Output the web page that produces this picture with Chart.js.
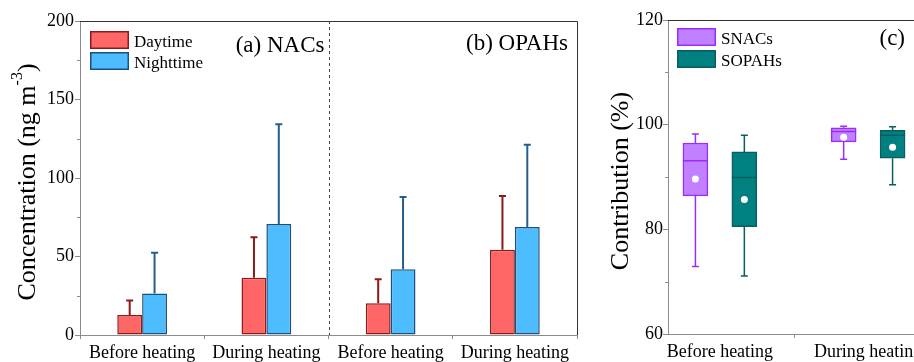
<!DOCTYPE html>
<html>
<head>
<meta charset="utf-8">
<script src="https://cdn.jsdelivr.net/npm/chart.js@4.4.0/dist/chart.umd.min.js"></script>
<style>
  html, body { margin: 0; padding: 0; background: #fff; overflow: hidden; }
  #wrap { position: relative; width: 914px; height: 362px; overflow: hidden; }
  #concChart { position: absolute; left: 0; top: 0; }
  #contribChart { position: absolute; left: 600px; top: 0; }
</style>
</head>
<body>
<div id="wrap">
  <canvas id="concChart" width="600" height="362"></canvas>
  <canvas id="contribChart" width="330" height="362"></canvas>
</div>
<script>
// (a) NACs and (b) OPAHs: mean concentration with one-sided SD
const periods = ['Before heating', 'During heating', 'Before heating', 'During heating'];
const daytimeMean = [12.7, 36.5, 20.2, 54.3];
const daytimeSD = [9.3, 25.7, 15.3, 34.2];
const nighttimeMean = [26.5, 70.7, 41.8, 68.8];
const nighttimeSD = [25.9, 63.5, 46.1, 52.4];
const concTicks = [0, 50, 100, 150, 200];
const concMinorTicks = [25, 75, 125, 175];

// (c) contribution box plots
const boxGroups = ['Before heating', 'During heating'];
const snacsMin = [72.9, 93.4];
const snacsQ1 = [86.4, 96.7];
const snacsMedian = [93.1, 98.7];
const snacsQ3 = [96.5, 99.4];
const snacsMax = [98.2, 99.7];
const snacsMean = [89.6, 97.6];
const sopahsMin = [71.1, 88.5];
const sopahsQ1 = [80.5, 93.6];
const sopahsMedian = [89.9, 98.0];
const sopahsQ3 = [94.8, 98.9];
const sopahsMax = [98.0, 99.6];
const sopahsMean = [85.7, 95.7];
const contribTicks = [60, 80, 100, 120];
const contribMinorTicks = [70, 90, 110];

const serif = 'Liberation Serif';
const axisGray = '#8c8c8c';
const frameColor = '#333333';

Chart.defaults.font.family = serif;
Chart.defaults.color = '#000';

function minorTicks(chart, values) {
    const ctx = chart.ctx, y = chart.scales.y;
    ctx.save();
    ctx.strokeStyle = axisGray;
    ctx.lineWidth = 1;
    values.forEach(function(v) {
        const py = Math.round(y.getPixelForValue(v)) + 0.5;
        ctx.beginPath();
        ctx.moveTo(y.right - 3, py);
        ctx.lineTo(y.right, py);
        ctx.stroke();
    });
    ctx.restore();
}

function frame(chart) {
    const ctx = chart.ctx, a = chart.chartArea;
    ctx.save();
    ctx.strokeStyle = frameColor;
    ctx.lineWidth = 1;
    ctx.beginPath();
    ctx.moveTo(a.left, a.top + 0.5);
    ctx.lineTo(a.right + 0.5, a.top + 0.5);
    ctx.lineTo(a.right + 0.5, a.bottom);
    ctx.stroke();
    ctx.restore();
}

// rotated axis title, parts may be raised (superscript)
function yTitle(ctx, x, y, parts) {
    ctx.save();
    ctx.translate(x, y);
    ctx.rotate(-Math.PI / 2);
    ctx.fillStyle = '#000';
    ctx.textBaseline = 'alphabetic';
    let total = 0;
    parts.forEach(function(p) {
        ctx.font = p.size + 'px ' + serif;
        p.w = ctx.measureText(p.text).width;
        total += p.w;
    });
    let cx = -total / 2;
    parts.forEach(function(p) {
        ctx.font = p.size + 'px ' + serif;
        ctx.fillText(p.text, cx, -(p.raise || 0));
        cx += p.w;
    });
    ctx.restore();
}

function legend(chart, x, y0, step) {
    const ctx = chart.ctx;
    ctx.save();
    chart.data.datasets.forEach(function(ds, i) {
        const top = y0 + i * step;
        ctx.fillStyle = ds.backgroundColor;
        ctx.fillRect(x, top, 39, 18);
        ctx.strokeStyle = ds.borderColor;
        ctx.lineWidth = 1.5;
        ctx.strokeRect(x + 0.75, top + 0.75, 37.5, 16.5);
        ctx.fillStyle = '#000';
        ctx.font = '17px ' + serif;
        ctx.textBaseline = 'alphabetic';
        ctx.fillText(ds.label, x + 44, top + 16);
    });
    ctx.restore();
}

function panelLabel(ctx, text, right, baseline) {
    ctx.save();
    ctx.font = '23px ' + serif;
    ctx.fillStyle = '#000';
    ctx.textAlign = 'right';
    ctx.fillText(text, right, baseline);
    ctx.restore();
}

const concDecor = {
    id: 'concDecor',
    afterDatasetsDraw(chart) {
        const ctx = chart.ctx, y = chart.scales.y, x = chart.scales.x, a = chart.chartArea;
        // one-sided SD bars
        chart.data.datasets.forEach(function(ds, i) {
            const meta = chart.getDatasetMeta(i);
            ctx.save();
            ctx.strokeStyle = ds.errorColor;
            ctx.lineWidth = 2;
            meta.data.forEach(function(bar, j) {
                const top = y.getPixelForValue(ds.data[j] + ds.sd[j]);
                ctx.beginPath();
                ctx.moveTo(bar.x, bar.y);
                ctx.lineTo(bar.x, top);
                ctx.moveTo(bar.x - 3.5, top);
                ctx.lineTo(bar.x + 3.5, top);
                ctx.stroke();
            });
            ctx.restore();
        });
        frame(chart);
        // dashed divider between NACs and OPAHs
        const mid = Math.round((x.getPixelForValue(1) + x.getPixelForValue(2)) / 2) + 0.5;
        ctx.save();
        ctx.strokeStyle = '#444';
        ctx.lineWidth = 1;
        ctx.setLineDash([3, 3]);
        ctx.beginPath();
        ctx.moveTo(mid, a.top);
        ctx.lineTo(mid, a.bottom);
        ctx.stroke();
        ctx.restore();
        minorTicks(chart, concMinorTicks);
        legend(chart, 90, 31, 21);
        panelLabel(ctx, '(a) NACs', mid - 5, 52);
        panelLabel(ctx, '(b) OPAHs', a.right - 9, 50);
        yTitle(ctx, 35, 182, [
            { text: 'Concentration (ng m', size: 26 },
            { text: '-3', size: 16, raise: 13 },
            { text: ')', size: 26 }
        ]);
    }
};

new Chart(document.getElementById('concChart'), {
    type: 'bar',
    data: {
        labels: periods,
        datasets: [{
            label: 'Daytime',
            data: daytimeMean,
            sd: daytimeSD,
            backgroundColor: '#ff6666',
            borderColor: '#8b1a1a',
            errorColor: '#8b1a1a',
            borderWidth: 1.5,
            borderSkipped: false
        }, {
            label: 'Nighttime',
            data: nighttimeMean,
            sd: nighttimeSD,
            backgroundColor: '#4dbdff',
            borderColor: '#1d4f7c',
            errorColor: '#255e8c',
            borderWidth: 1.5,
            borderSkipped: false
        }]
    },
    options: {
        responsive: false,
        animation: false,
        devicePixelRatio: 1,
        categoryPercentage: 0.4,
        barPercentage: 1.0,
        layout: { padding: { top: 21, right: 23, left: 0, bottom: 0 } },
        plugins: { legend: { display: false }, tooltip: { enabled: false } },
        scales: {
            x: {
                afterFit: function(s) { s.height = 27; },
                grid: { drawOnChartArea: false, offset: true, tickLength: 4, color: axisGray },
                border: { color: axisGray },
                ticks: { font: { size: 18 }, padding: 3, maxRotation: 0, autoSkip: false }
            },
            y: {
                min: 0,
                max: 200,
                afterFit: function(s) { s.width = 80; },
                afterBuildTicks: function(s) { s.ticks = concTicks.map(function(v) { return { value: v }; }); },
                grid: { drawOnChartArea: false, tickLength: 5, color: axisGray },
                border: { color: axisGray },
                ticks: { font: { size: 18 }, padding: 1 }
            }
        }
    },
    plugins: [concDecor]
});

// box plots: floating bars for the boxes, whiskers/median/mean drawn on the same scales
const boxOffset = 0.165;
function boxData(q1, q3, shift) {
    return q1.map(function(v, i) { return { x: i + 1 + shift, y: [v, q3[i]] }; });
}

const contribDecor = {
    id: 'contribDecor',
    afterDatasetsDraw(chart) {
        const ctx = chart.ctx, y = chart.scales.y, x = chart.scales.x, a = chart.chartArea;
        chart.data.datasets.forEach(function(ds, i) {
            const meta = chart.getDatasetMeta(i);
            ctx.save();
            ctx.strokeStyle = ds.borderColor;
            ctx.lineWidth = 1.5;
            meta.data.forEach(function(bar, j) {
                const cx = bar.x, half = bar.width / 2;
                const pMax = y.getPixelForValue(ds.whiskerMax[j]);
                const pMin = y.getPixelForValue(ds.whiskerMin[j]);
                const pQ3 = y.getPixelForValue(ds.data[j].y[1]);
                const pQ1 = y.getPixelForValue(ds.data[j].y[0]);
                const pMed = y.getPixelForValue(ds.median[j]);
                ctx.beginPath();
                ctx.moveTo(cx, pQ3); ctx.lineTo(cx, pMax);
                ctx.moveTo(cx - 3.5, pMax); ctx.lineTo(cx + 3.5, pMax);
                ctx.moveTo(cx, pQ1); ctx.lineTo(cx, pMin);
                ctx.moveTo(cx - 3.5, pMin); ctx.lineTo(cx + 3.5, pMin);
                ctx.moveTo(cx - half, pMed); ctx.lineTo(cx + half, pMed);
                ctx.stroke();
                ctx.fillStyle = '#fff';
                ctx.beginPath();
                ctx.arc(cx, y.getPixelForValue(ds.mean[j]), 3.5, 0, Math.PI * 2);
                ctx.fill();
            });
            ctx.restore();
        });
        frame(chart);
        // tick between the two groups
        const t = Math.round(x.getPixelForValue(1.5)) + 0.5;
        ctx.save();
        ctx.strokeStyle = axisGray;
        ctx.lineWidth = 1;
        ctx.beginPath();
        ctx.moveTo(t, a.bottom);
        ctx.lineTo(t, a.bottom + 4);
        ctx.stroke();
        ctx.restore();
        minorTicks(chart, contribMinorTicks);
        legend(chart, 77, 28, 22);
        panelLabel(ctx, '(c)', 305, 45);
        yTitle(ctx, 28, 181, [{ text: 'Contribution (%)', size: 26 }]);
    }
};

new Chart(document.getElementById('contribChart'), {
    type: 'bar',
    data: {
        datasets: [{
            label: 'SNACs',
            data: boxData(snacsQ1, snacsQ3, -boxOffset),
            median: snacsMedian,
            mean: snacsMean,
            whiskerMin: snacsMin,
            whiskerMax: snacsMax,
            backgroundColor: '#c080ff',
            borderColor: '#9a2cff',
            borderWidth: 1.5,
            borderSkipped: false,
            barThickness: 25,
            grouped: false
        }, {
            label: 'SOPAHs',
            data: boxData(sopahsQ1, sopahsQ3, boxOffset),
            median: sopahsMedian,
            mean: sopahsMean,
            whiskerMin: sopahsMin,
            whiskerMax: sopahsMax,
            backgroundColor: '#008080',
            borderColor: '#0b5e5e',
            borderWidth: 1.5,
            borderSkipped: false,
            barThickness: 25,
            grouped: false
        }]
    },
    options: {
        responsive: false,
        animation: false,
        devicePixelRatio: 1,
        layout: { padding: { top: 20, right: 10, left: 0, bottom: 0 } },
        plugins: { legend: { display: false }, tooltip: { enabled: false } },
        scales: {
            x: {
                type: 'linear',
                min: 0.65,
                max: 2.35,
                offset: false,
                afterFit: function(s) { s.height = 28; },
                afterBuildTicks: function(s) { s.ticks = boxGroups.map(function(g, i) { return { value: i + 1 }; }); },
                grid: { drawOnChartArea: false, tickLength: 4, tickColor: 'rgba(0,0,0,0)', color: axisGray },
                border: { color: axisGray },
                ticks: {
                    font: { size: 18 },
                    padding: 3,
                    maxRotation: 0,
                    autoSkip: false,
                    callback: function(v) { return boxGroups[Math.round(v) - 1]; }
                }
            },
            y: {
                min: 60,
                max: 120,
                afterFit: function(s) { s.width = 68; },
                afterBuildTicks: function(s) { s.ticks = contribTicks.map(function(v) { return { value: v }; }); },
                grid: { drawOnChartArea: false, tickLength: 5, color: axisGray },
                border: { color: axisGray },
                ticks: { font: { size: 18 }, padding: 0 }
            }
        }
    },
    plugins: [contribDecor]
});
</script>
</body>
</html>
